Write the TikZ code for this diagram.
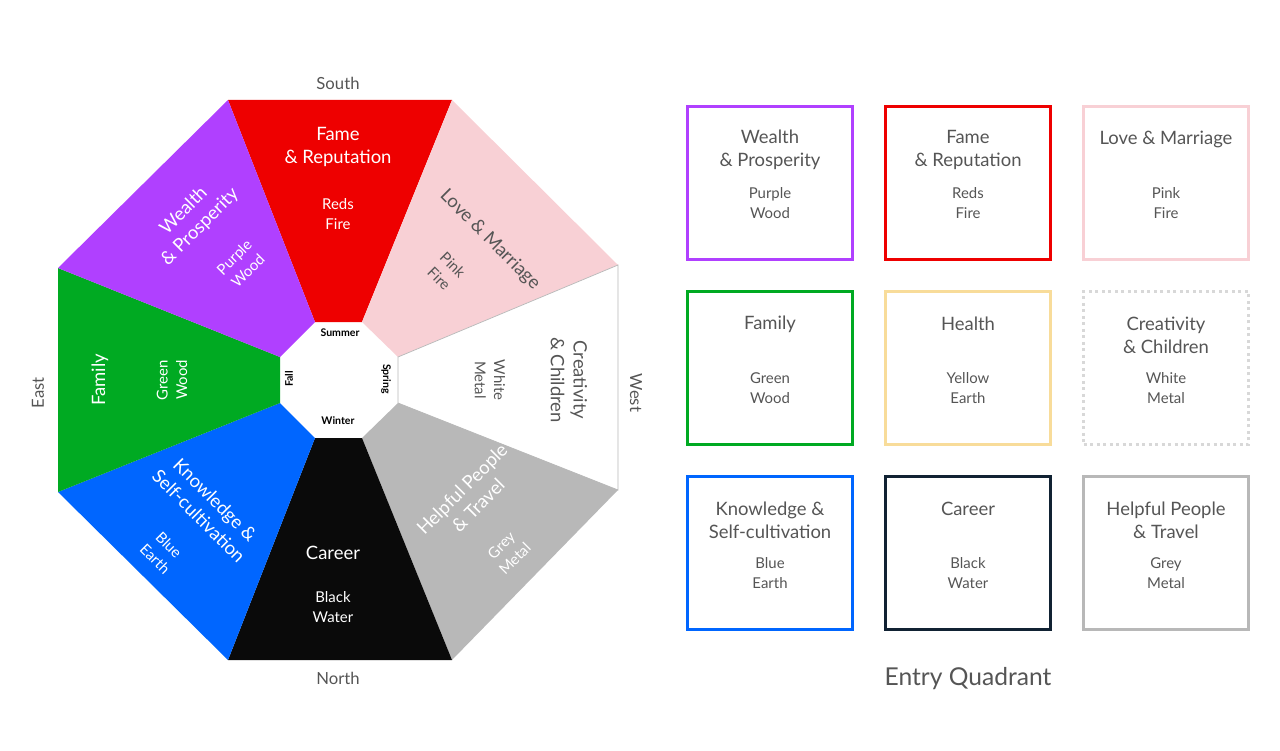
\documentclass[tikz,border=0pt]{standalone}
\usepackage{fontspec}
\setmainfont{Lato}
\usepackage{tikz}
\usetikzlibrary{positioning}
\definecolor{cpurple}{HTML}{B040FF}
\definecolor{cred}{HTML}{EE0000}
\definecolor{cpink}{HTML}{F8D0D5}
\definecolor{cgreen}{HTML}{00AA22}
\definecolor{cyellow}{HTML}{F8DC9A}
\definecolor{cdots}{HTML}{D8D8D8}
\definecolor{cblue}{HTML}{0066FF}
\definecolor{cnavy}{HTML}{112233}
\definecolor{cgrey}{HTML}{B8B8B8}
\definecolor{cblack}{HTML}{0A0A0A}
\definecolor{ctext}{HTML}{555555}
\tikzset{
  title/.style={align=center, font=\fontsize{10.5}{13}\selectfont, inner sep=0pt},
  elem/.style={align=center, font=\fontsize{8.5}{11}\selectfont, inner sep=0pt},
  season/.style={font=\fontsize{6}{7}\selectfont\bfseries, inner sep=0pt},
  compass/.style={font=\fontsize{9.5}{11}\selectfont, text=ctext, inner sep=0pt},
  quad/.style={line width=1.7pt, minimum width=93.5bp, minimum height=86.7bp, inner sep=0pt}
}
\begin{document}
\begin{tikzpicture}[x=0.02cm, y=-0.02cm]
  \useasboundingbox (0,0) rectangle (1280,750);
  % octagon wedges
  \fill[cred]    (228,100) -- (452,100) -- (362,322) -- (315,322) -- cycle;
  \fill[cpink]   (452,100) -- (618,265) -- (398,357) -- (362,322) -- cycle;
  \filldraw[fill=white, draw=cgrey, line width=0.4pt] (618,265) -- (618,490) -- (398,403) -- (398,357) -- cycle;
  \fill[cgrey]   (618,490) -- (452,660) -- (362,438) -- (398,403) -- cycle;
  \fill[cblack]  (452,660) -- (228,660) -- (315,438) -- (362,438) -- cycle;
  \fill[cblue]   (228,660) -- (58,492) -- (280,403) -- (315,438) -- cycle;
  \fill[cgreen]  (58,492) -- (58,268) -- (280,357) -- (280,403) -- cycle;
  \fill[cpurple] (58,268) -- (228,100) -- (315,322) -- (280,357) -- cycle;
  % seasons
  \node[season] (summer) at (340,333) {Summer};
  \node[season] (winter) at (338,421) {Winter};
  \node[season, rotate=90] (fall) at (289,379) {Fall};
  \node[season, rotate=-90] (spring) at (386,379) {Spring};
  % compass
  \node[compass] (south) at (338,83) {South};
  \node[compass] (north) at (338,678) {North};
  \node[compass, rotate=90] (east) at (38,393) {East};
  \node[compass, rotate=-90] (west) at (636,393) {West};
  % wedge texts
  \node[title, text=white] (fameT) at (338,147) {Fame\\\& Reputation};
  \node[elem, text=white] (fameE) at (338,214) {Reds\\Fire};
  \node[title, text=white, rotate=45] (wealthT) at (192,219) {Wealth\\\& Prosperity};
  \node[elem, text=white, rotate=45] (wealthE) at (241,264) {Purple\\Wood};
  \node[title, text=ctext, rotate=-45] (loveT) at (490,240) {Love \& Marriage};
  \node[elem, text=ctext, rotate=-45] (loveE) at (446,272) {Pink\\Fire};
  \node[title, text=ctext, rotate=-90] (creaT) at (569,380) {Creativity\\\& Children};
  \node[elem, text=ctext, rotate=-90] (creaE) at (490,380) {White\\Metal};
  \node[title, text=white, rotate=90] (famT) at (100,380) {Family};
  \node[elem, text=white, rotate=90] (famE) at (172,380) {Green\\Wood};
  \node[title, text=white, rotate=-45] (knowT) at (207,508) {Knowledge \&\\Self-cultivation};
  \node[elem, text=white, rotate=-45] (knowE) at (162,552) {Blue\\Earth};
  \node[title, text=white] (carT) at (333,553) {Career};
  \node[elem, text=white] (carE) at (333,607) {Black\\Water};
  \node[title, text=white, rotate=45] (helpT) at (470,497) {Helpful People\\\& Travel};
  \node[elem, text=white, rotate=45] (helpE) at (508,552) {Grey\\Metal};
  % entry quadrant boxes
  \foreach \nm/\cx/\cy/\col/\ttl/\el/\ty in {
      wea/770/183/cpurple/{Wealth\\\& Prosperity}/{Purple\\Wood}/150,
      fam/968/183/cred/{Fame\\\& Reputation}/{Reds\\Fire}/150,
      lov/1166/183/cpink/{Love \& Marriage}/{Pink\\Fire}/139,
      fmy/770/368/cgreen/{Family}/{Green\\Wood}/324,
      hea/968/368/cyellow/{Health}/{Yellow\\Earth}/324,
      kno/770/553/cblue/{Knowledge \&\\Self-cultivation}/{Blue\\Earth}/520,
      car/968/553/cnavy/{Career}/{Black\\Water}/509,
      hel/1166/553/cgrey/{Helpful People\\\& Travel}/{Grey\\Metal}/520} {
    \node[quad, draw=\col] (\nm) at (\cx,\cy) {};
    \node[title, text=ctext] (\nm T) at (\cx,\ty) {\ttl};
    \node[elem, text=ctext] (\nm E) at (\cx,\cy+20) {\el};
  }
  \node[quad, draw=cdots, dotted, line width=2pt] (cre) at (1166,368) {};
  \node[title, text=ctext] (creT) at (1166,335) {Creativity\\\& Children};
  \node[elem, text=ctext] (creE) at (1166,388) {White\\Metal};
  \node[font=\fontsize{14}{16}\selectfont, text=ctext] (entry) at (968,679) {Entry Quadrant};
\end{tikzpicture}
\end{document}
